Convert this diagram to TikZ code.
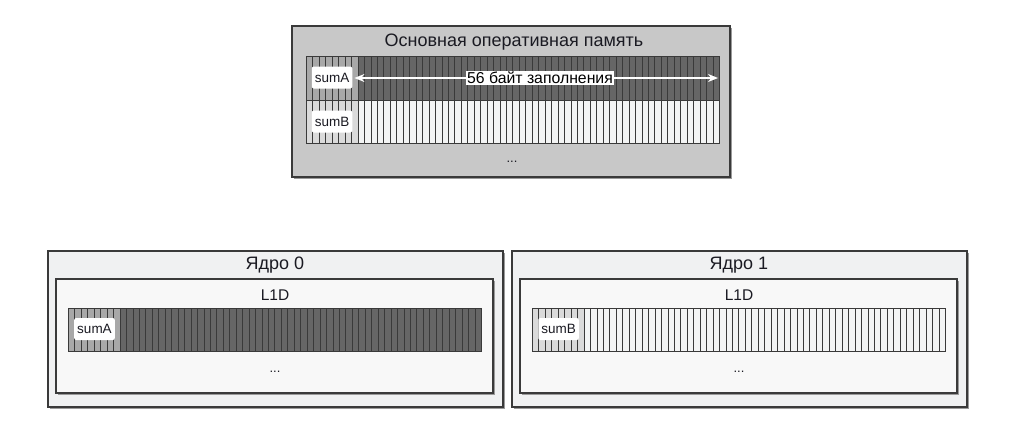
\documentclass[tikz,border=0pt]{standalone}
\usepackage{fontspec}
\setmainfont{Liberation Sans}
\usetikzlibrary{arrows.meta}
\definecolor{memfill}{HTML}{C8C8C8}
\definecolor{corefill}{HTML}{F0F1F2}
\definecolor{lonefill}{HTML}{F8F8F8}
\definecolor{edgec}{HTML}{3A3A3A}
\definecolor{darkcell}{HTML}{666666}
\definecolor{midcell}{HTML}{A8A8A8}
\definecolor{palecell}{HTML}{DADADA}
\definecolor{whitecell}{HTML}{F3F4F4}
\definecolor{shadowc}{HTML}{9A9A9A}
\definecolor{txtc}{HTML}{1A1A22}
\tikzset{
  boxedge/.style={draw=edgec, line width=1.4pt},
  shadowbox/.style={fill=shadowc},
  stripeln/.style={draw=edgec, line width=1pt},
  rowedge/.style={draw=edgec, line width=0.9pt},
  titletxt/.style={font=\fontsize{18}{20}\selectfont, text=txtc, inner sep=1pt},
  subtxt/.style={font=\fontsize{15.5}{18}\selectfont, text=txtc, inner sep=1pt},
  lbl/.style={font=\fontsize{13.5}{16}\selectfont, text=txtc, fill=white, rounded corners=2pt, inner xsep=3pt, inner ysep=3pt, minimum height=22pt},
  dotstxt/.style={font=\fontsize{13}{15}\selectfont, text=txtc, inner sep=1pt},
  padlbl/.style={font=\fontsize{15.8}{18}\selectfont, text=black, fill=white, inner xsep=1pt, inner ysep=1pt},
  whitearrow/.style={draw=white, line width=2pt, {Stealth[length=10pt,width=8pt]}-{Stealth[length=10pt,width=8pt]}}
}
\newcommand{\stripesrow}[5]{%
  \fill[#4] (#1,#2) rectangle ({#1+52},#3);
  \fill[#5] ({#1+52},#2) rectangle ({#1+413},#3);
  \foreach \i in {1,...,63} {\draw[stripeln] ({#1+round(\i*6.453)+0.5},#2) -- ({#1+round(\i*6.453)+0.5},#3);}
  \draw[rowedge] (#1,#2) rectangle ({#1+413},#3);
}
\begin{document}
\begin{tikzpicture}[x=1pt,y=-1pt]
\useasboundingbox (0,0) rectangle (1022,423);
% ---- main memory ----
\fill[shadowbox] (294,28) rectangle (732,179);
\draw[boxedge, fill=memfill] (292,26) rectangle (730,177);
\node[titletxt] (memT) at (514,42) {Основная оперативная память};
\stripesrow{306}{56}{100}{midcell}{darkcell}
\stripesrow{306}{100}{143}{palecell}{whitecell}
\node[lbl] (sA) at (332,77.5) {sumA};
\node[lbl] (sB) at (332,121.5) {sumB};
\coordinate (rowAend) at (718,78);
\draw[whitearrow, shorten <=2pt] (sA.east |- rowAend) -- (rowAend);
\node[padlbl] (pad) at (540,78) {56 байт заполнения};
\node[dotstxt] (memD) at (512,162) {...};
% ---- core 0 ----
\fill[shadowbox] (50,253) rectangle (505,409);
\draw[boxedge, fill=corefill] (48,251) rectangle (503,407);
\fill[shadowbox] (58,281) rectangle (495,395);
\draw[boxedge, fill=lonefill] (56,279) rectangle (493,393);
\node[titletxt] (cA) at (275,265) {Ядро 0};
\node[subtxt] (lA) at (275,295) {L1D};
\stripesrow{68}{308}{351}{midcell}{darkcell}
\node[lbl] (cAs) at (94.5,329) {sumA};
\node[dotstxt] (cAd) at (275,372) {...};
% ---- core 1 ----
\fill[shadowbox] (514,253) rectangle (969,409);
\draw[boxedge, fill=corefill] (512,251) rectangle (967,407);
\fill[shadowbox] (522,281) rectangle (959,395);
\draw[boxedge, fill=lonefill] (520,279) rectangle (957,393);
\node[titletxt] (cB) at (739,265) {Ядро 1};
\node[subtxt] (lB) at (739,295) {L1D};
\stripesrow{532}{308}{351}{palecell}{whitecell}
\node[lbl] (cBs) at (558.5,329) {sumB};
\node[dotstxt] (cBd) at (739,372) {...};
\end{tikzpicture}
\end{document}
